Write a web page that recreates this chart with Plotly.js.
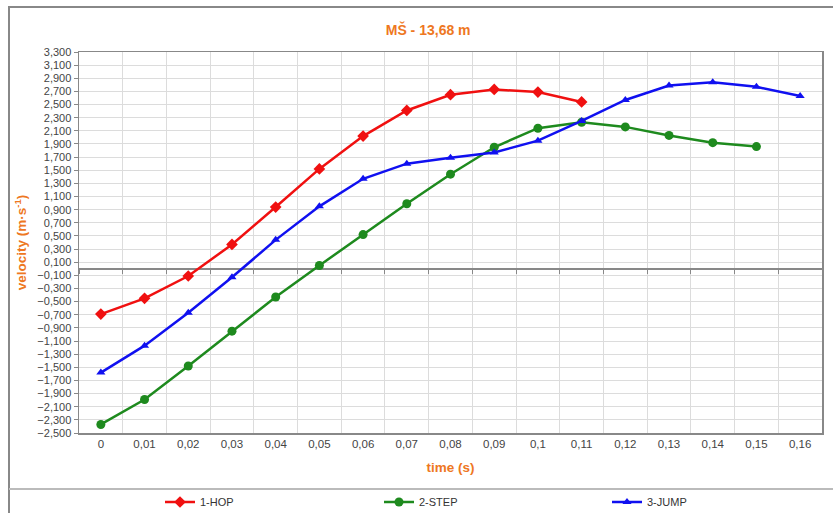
<!DOCTYPE html>
<html>
<head>
<meta charset="utf-8">
<script src="https://cdn.plot.ly/plotly-3.0.1.min.js"></script>
<style>html,body{margin:0;padding:0;background:#fff;}#chart{width:833px;height:513px;}</style>
</head>
<body>
<div id="chart"></div>
<script>
var categories = ["0","0,01","0,02","0,03","0,04","0,05","0,06","0,07","0,08","0,09","0,1","0,11","0,12","0,13","0,14","0,15","0,16"];
var hop  = [-0.69,-0.45,-0.11,0.37,0.94,1.52,2.02,2.41,2.65,2.73,2.69,2.54];
var step = [-2.37,-1.99,-1.48,-0.95,-0.43,0.05,0.52,0.99,1.44,1.85,2.14,2.23,2.16,2.03,1.92,1.86];
var jump = [-1.58,-1.17,-0.67,-0.13,0.44,0.95,1.37,1.60,1.69,1.77,1.95,2.25,2.57,2.79,2.84,2.77,2.63];
var seriesNames = ["1-HOP","2-STEP","3-JUMP"];
var titleText = "MŠ - 13,68 m";
var xTitle = "time (s)";
var yTitle = "velocity (m·s<sup>-1</sup>)";

var orange = "#EE7722";
var traces = [
  {x: categories.slice(0, hop.length), y: hop, name: seriesNames[0], type: "scatter", mode: "lines+markers", legend: "legend",
   line: {color: "#F01010", width: 2.5}, marker: {symbol: "diamond", size: 9, color: "#F01010"}},
  {x: categories.slice(0, step.length), y: step, name: seriesNames[1], type: "scatter", mode: "lines+markers", legend: "legend2",
   line: {color: "#1E8A1E", width: 2.5}, marker: {symbol: "circle", size: 9, color: "#1E8A1E"}},
  {x: categories.slice(0, jump.length), y: jump, name: seriesNames[2], type: "scatter", mode: "lines+markers", legend: "legend3",
   line: {color: "#1010F0", width: 2.5}, marker: {symbol: "triangle-up", size: 8, color: "#1010F0"}},
  {x: categories, y: jump, xaxis: "x2", type: "scatter", mode: "lines", opacity: 0, showlegend: false, hoverinfo: "skip"}
];

function legendAt(px) {
  return {orientation: "h", xref: "container", yref: "container", x: px/833, xanchor: "left",
          y: 1 - 502/513, yanchor: "middle", font: {size: 11, color: "#333"}, bgcolor: "rgba(0,0,0,0)"};
}

var layout = {
  width: 833, height: 513,
  margin: {l: 79, r: 11, t: 52, b: 80},
  paper_bgcolor: "#fff", plot_bgcolor: "#fff",
  separators: ",.",
  font: {family: "Liberation Sans, Arial, sans-serif", size: 11, color: "#444"},
  title: {text: "<b>" + titleText + "</b>", x: 0.514, xanchor: "center", y: 1 - 30/513, yanchor: "middle",
          font: {size: 14, color: orange}},
  xaxis: {type: "category", categoryorder: "array", categoryarray: categories, range: [-0.5, 16.5],
          tickson: "boundaries", ticks: "", showgrid: true, gridcolor: "#dcdcdc", gridwidth: 1,
          showline: true, linecolor: "#888", linewidth: 1.5, mirror: true,
          tickfont: {size: 11.5, color: "#444"},
          title: {text: "<b>" + xTitle + "</b>", font: {size: 13.5, color: orange}, standoff: 13}},
  xaxis2: {type: "category", categoryorder: "array", categoryarray: categories, range: [-0.5, 16.5],
           overlaying: "x", anchor: "free", position: 2.5/5.8, side: "bottom",
           tickson: "boundaries", ticks: "outside", ticklen: 4, tickcolor: "#888",
           showticklabels: false, showgrid: false, showline: false, zeroline: false},
  yaxis: {range: [-2.5, 3.3], tick0: -2.5, dtick: 0.2, tickformat: ".3f",
          showgrid: true, gridcolor: "#dcdcdc", gridwidth: 1,
          zeroline: true, zerolinecolor: "#888", zerolinewidth: 1.5,
          showline: true, linecolor: "#888", linewidth: 1.5, mirror: true,
          ticks: "outside", ticklen: 4, tickcolor: "#888",
          tickfont: {size: 11, color: "#444"},
          title: {text: "<b>" + yTitle + "</b>", font: {size: 13.5, color: orange}, standoff: 7}},
  showlegend: true,
  legend: legendAt(160),
  legend2: legendAt(379),
  legend3: legendAt(607),
  shapes: [
    {type: "rect", xref: "paper", yref: "paper", x0: (9-79)/743, x1: (840-79)/743, y0: (433-520)/381, y1: (433-7)/381,
     line: {color: "#888", width: 2}, fillcolor: "rgba(0,0,0,0)", layer: "below"},
    {type: "line", xref: "paper", yref: "paper", x0: (9-79)/743, x1: (840-79)/743, y0: (433-489)/381, y1: (433-489)/381,
     line: {color: "#bbb", width: 2}}
  ]
};

Plotly.newPlot("chart", traces, layout, {displayModeBar: false, staticPlot: true});
</script>
</body>
</html>
